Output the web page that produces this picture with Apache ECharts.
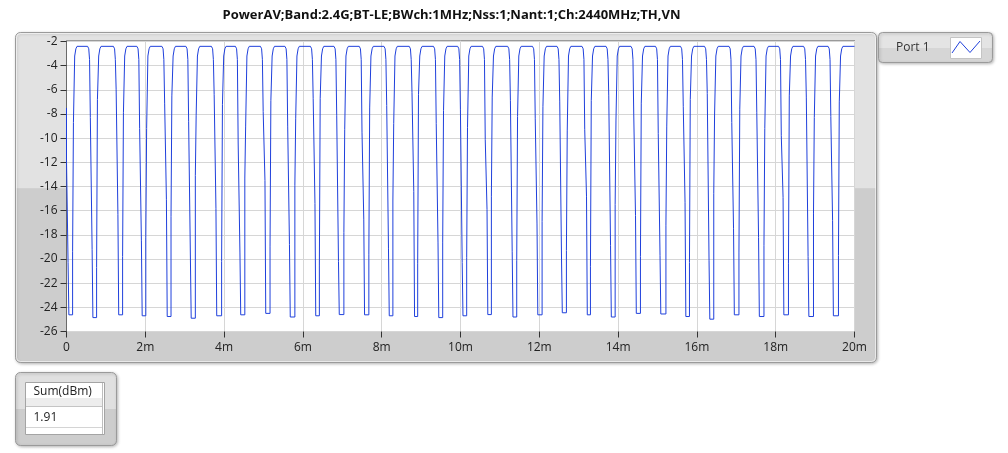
<!DOCTYPE html>
<html>
<head>
<meta charset="utf-8">
<script src="https://cdn.jsdelivr.net/npm/echarts@6/dist/echarts.min.js"></script>
<style>
html,body{margin:0;padding:0;background:#fff;}
#c{width:1008px;height:453px;}
</style>
</head>
<body>
<div id="c"></div>
<script>
// ---- data (time in ms, power in dBm) ----
const titleText = 'PowerAV;Band:2.4G;BT-LE;BWch:1MHz;Nss:1;Nant:1;Ch:2440MHz;TH,VN';
const seriesName = 'Port 1';
const sumHeader = 'Sum(dBm)';
const sumValue = '1.91';

const xTicksMs = [0, 2, 4, 6, 8, 10, 12, 14, 16, 18, 20];
const yTicksDbm = [-2, -4, -6, -8, -10, -12, -14, -16, -18, -20, -22, -24, -26];

// partial falling edge at the very start of the trace
const startMs  = [0, 0, 0.04, 0.04, 0.06, 0.06];
const startDbm = [-7.5, -11.8, -11.8, -20.3, -20.3, -24.62];

// mid-level time of each rising edge
const riseMs = [0.168, 0.777, 1.437, 2.026, 2.666, 3.283, 3.950, 4.539, 5.179, 5.809,
  6.431, 7.053, 7.687, 8.297, 8.926, 9.561, 10.170, 10.797, 11.440, 12.084,
  12.701, 13.311, 13.938, 14.580, 15.227, 15.824, 16.441, 17.080, 17.715, 18.337,
  18.972, 19.606];
// mid-level time of each falling edge
const fallMs = [0.635, 1.290, 1.886, 2.521, 3.130, 3.778, 4.387, 5.022, 5.644, 6.291,
  6.888, 7.530, 8.157, 8.799, 9.414, 10.028, 10.658, 11.297, 11.927, 12.549,
  13.183, 13.793, 14.427, 15.049, 15.684, 16.293, 16.915, 17.550, 18.172, 18.807,
  19.429];
// plateau levels
const highDbm = -2.4;
const lowDbm = [-24.62, -24.85, -24.62, -24.7, -24.76, -24.9, -24.7, -24.62, -24.5, -24.8,
  -24.7, -24.6, -24.62, -24.7, -24.76, -24.85, -24.7, -24.6, -24.8, -24.62,
  -24.45, -24.62, -24.8, -24.5, -24.55, -24.76, -24.98, -24.62, -24.76, -24.62,
  -24.76, -24.7];
// intermediate levels where the edges jog
const riseJogLowDbm = [-19.4, -20.7, -19.8, -18.2, -16.5, -13.1, -20.2, -13.3, -19.0, -13.9,
  -20.5, -17.8, -19.6, -15.2, -20.4, -18.6, -19.9, -14.8, -20.1, -16.9,
  -19.3, -20.6, -15.5, -19.8, -17.2, -20.3, -14.6, -19.5, -18.9, -20.4,
  -16.2, -19.7];
const riseJogHighDbm = [-8.7, -6.8, -7.9, -9.2, -6.5, -8.1, -7.2, -9.0, -6.9, -8.4,
  -6.7, -9.3, -7.5, -8.8, -6.4, -7.7, -9.1, -6.6, -8.2, -7.4,
  -9.4, -6.9, -8.5, -7.1, -9.0, -6.8, -8.0, -7.6, -9.2, -6.5,
  -8.3, -7.0];
const fallJogHighDbm = [-8.3, -6.0, -9.2, -7.1, -8.6, -6.4, -10.4, -7.8, -9.0, -6.7,
  -8.1, -9.5, -7.3, -6.2, -8.8, -7.6, -10.1, -6.9, -8.4, -7.0,
  -9.3, -6.5, -8.0, -9.6, -7.4, -6.3, -8.7, -7.9, -9.8, -6.6,
  -8.2];
const fallJogLowDbm = [-19.2, -16.3, -18.5, -15.1, -20.0, -15.8, -19.5, -13.5, -18.8, -15.4,
  -20.2, -16.7, -19.1, -14.4, -18.6, -20.3, -15.9, -19.4, -17.1, -20.0,
  -14.8, -18.9, -16.4, -19.7, -15.3, -20.1, -17.5, -18.2, -14.9, -19.8,
  -16.8];
const cornerDbm = -2.6, riseShoulderDbm = -3.2, fallShoulderDbm = -3.5;
const endMs = 20;

// ---- build the trace vertices from the read values ----
const trace = [];
for (let i = 0; i < startMs.length; i++) trace.push([startMs[i], startDbm[i]]);
for (let k = 0; k < riseMs.length; k++) {
  const R = riseMs[k];
  trace.push([R - 0.013, lowDbm[k]], [R - 0.013, riseJogLowDbm[k]],
             [R + 0.008, riseJogLowDbm[k]], [R + 0.008, riseJogHighDbm[k]],
             [R + 0.04, riseJogHighDbm[k]], [R + 0.04, riseShoulderDbm],
             [R + 0.07, cornerDbm], [R + 0.1, highDbm]);
  if (k < fallMs.length) {
    const F = fallMs[k];
    trace.push([F - 0.1, highDbm], [F - 0.07, cornerDbm], [F - 0.05, fallShoulderDbm],
               [F - 0.03, fallShoulderDbm], [F - 0.03, fallJogHighDbm[k]],
               [F + 0.015, fallJogHighDbm[k]], [F + 0.015, fallJogLowDbm[k]],
               [F + 0.035, fallJogLowDbm[k]], [F + 0.035, lowDbm[k + 1]]);
  } else {
    trace.push([endMs, highDbm]);
  }
}

const FONT = '"Segoe UI", "Open Sans", "DejaVu Sans", sans-serif';
const BLUE = '#1f40dc';

const chart = echarts.init(document.getElementById('c'), null, {renderer: 'canvas'});

function hardGrad(top, bottom, split) {
  return new echarts.graphic.LinearGradient(0, 0, 0, 1, [
    {offset: 0, color: top}, {offset: split, color: top},
    {offset: split + 0.001, color: bottom}, {offset: 1, color: bottom}
  ]);
}

chart.setOption({
  animation: false,
  backgroundColor: '#ffffff',
  title: {
    text: titleText,
    left: 446.5, top: 3.5, textAlign: 'center',
    textStyle: {fontFamily: FONT, fontSize: 13, fontWeight: 'bold', color: '#111'}
  },
  grid: {
    left: 66.5, right: 153.5, top: 41.5, bottom: 121.5,
    show: false
  },
  xAxis: {
    type: 'value', min: xTicksMs[0], max: xTicksMs[xTicksMs.length - 1], interval: 2,
    axisLine: {show: false},
    axisTick: {show: true, length: 6, lineStyle: {color: '#333'}},
    splitLine: {show: true, lineStyle: {color: '#d6d6d6', width: 1}},
    axisLabel: {
      margin: 10, color: '#222', fontFamily: FONT, fontSize: 12,
      formatter: v => (v === 0 ? '0' : v + 'm')
    }
  },
  yAxis: {
    type: 'value', min: yTicksDbm[yTicksDbm.length - 1], max: yTicksDbm[0], interval: 2,
    axisLine: {show: true, lineStyle: {color: '#6a6a6a'}},
    axisTick: {show: true, length: 6, lineStyle: {color: '#333'}},
    splitLine: {show: true, lineStyle: {color: '#d6d6d6', width: 1}},
    axisLabel: {margin: 9, color: '#222', fontFamily: FONT, fontSize: 12}
  },
  series: [{
    name: seriesName, type: 'line', data: trace, showSymbol: false, symbol: 'none',
    lineStyle: {color: BLUE, width: 1}, itemStyle: {color: BLUE}, z: 3
  }],
  graphic: [
    // main graph frame
    {type: 'rect', z: -10, shape: {x: 15.5, y: 32.5, width: 861, height: 330, r: 5},
      style: {fill: hardGrad('#e2e2e2', '#cdcdcd', 0.472), stroke: '#9a9a9a', lineWidth: 1,
        shadowBlur: 3, shadowOffsetX: 1, shadowOffsetY: 1, shadowColor: 'rgba(0,0,0,0.25)'}},
    {type: 'rect', z: -9, shape: {x: 16.5, y: 33.5, width: 859, height: 328, r: 4},
      style: {fill: 'none', stroke: 'rgba(255,255,255,0.6)', lineWidth: 1}},
    // plot background
    {type: 'rect', z: -8, shape: {x: 66.5, y: 41, width: 788.5, height: 291},
      style: {fill: '#ffffff', stroke: 'none'}},
    // top edge of plot
    {type: 'line', z: 20, shape: {x1: 66, y1: 40.5, x2: 855, y2: 40.5},
      style: {stroke: '#9a9a9a', lineWidth: 1}},
    // legend box
    {type: 'rect', z: -10, shape: {x: 878.5, y: 32.5, width: 114, height: 30, r: 4},
      style: {fill: hardGrad('#e4e4e4', '#d6d6d6', 0.5), stroke: '#9a9a9a', lineWidth: 1,
        shadowBlur: 3, shadowOffsetX: 1, shadowOffsetY: 1, shadowColor: 'rgba(0,0,0,0.25)'}},
    {type: 'text', z: 5, style: {text: seriesName, x: 896, y: 48, font: '12px ' + FONT,
      fill: '#333', textAlign: 'left', textVerticalAlign: 'middle', align: 'left', verticalAlign: 'middle'}},
    {type: 'rect', z: 5, shape: {x: 950.5, y: 37.5, width: 31, height: 21},
      style: {fill: '#ffffff', stroke: '#c4c4c4', lineWidth: 1}},
    {type: 'polyline', z: 6, shape: {points: [[952, 53], [960, 41.5], [970, 52.5], [980, 41]]},
      style: {fill: 'none', stroke: BLUE, lineWidth: 1}},
    // sum table
    {type: 'rect', z: -10, shape: {x: 15.5, y: 372.5, width: 101, height: 73, r: 5},
      style: {fill: hardGrad('#e0e0e0', '#cdcdcd', 0.5), stroke: '#9a9a9a', lineWidth: 1,
        shadowBlur: 3, shadowOffsetX: 1, shadowOffsetY: 1, shadowColor: 'rgba(0,0,0,0.25)'}},
    {type: 'rect', z: 5, shape: {x: 25.5, y: 382.5, width: 79, height: 52},
      style: {fill: '#ffffff', stroke: '#a4a4a4', lineWidth: 1}},
    {type: 'rect', z: 5, shape: {x: 26, y: 398, width: 76, height: 8.5},
      style: {fill: '#ededed', stroke: 'none'}},
    {type: 'line', z: 6, shape: {x1: 26, y1: 406.5, x2: 102, y2: 406.5},
      style: {stroke: '#c4c4c4', lineWidth: 1}},
    {type: 'line', z: 6, shape: {x1: 26, y1: 427.5, x2: 102, y2: 427.5},
      style: {stroke: '#d4d4d4', lineWidth: 1}},
    {type: 'line', z: 6, shape: {x1: 102.5, y1: 383, x2: 102.5, y2: 434},
      style: {stroke: '#bdbdbd', lineWidth: 1}},
    {type: 'text', z: 7, style: {text: sumHeader, x: 33.5, y: 392, font: '12px ' + FONT,
      fill: '#222', textAlign: 'left', textVerticalAlign: 'middle', align: 'left', verticalAlign: 'middle'}},
    {type: 'text', z: 7, style: {text: sumValue, x: 33.5, y: 417.5, font: '12px ' + FONT,
      fill: '#222', textAlign: 'left', textVerticalAlign: 'middle', align: 'left', verticalAlign: 'middle'}}
  ]
});
</script>
</body>
</html>
